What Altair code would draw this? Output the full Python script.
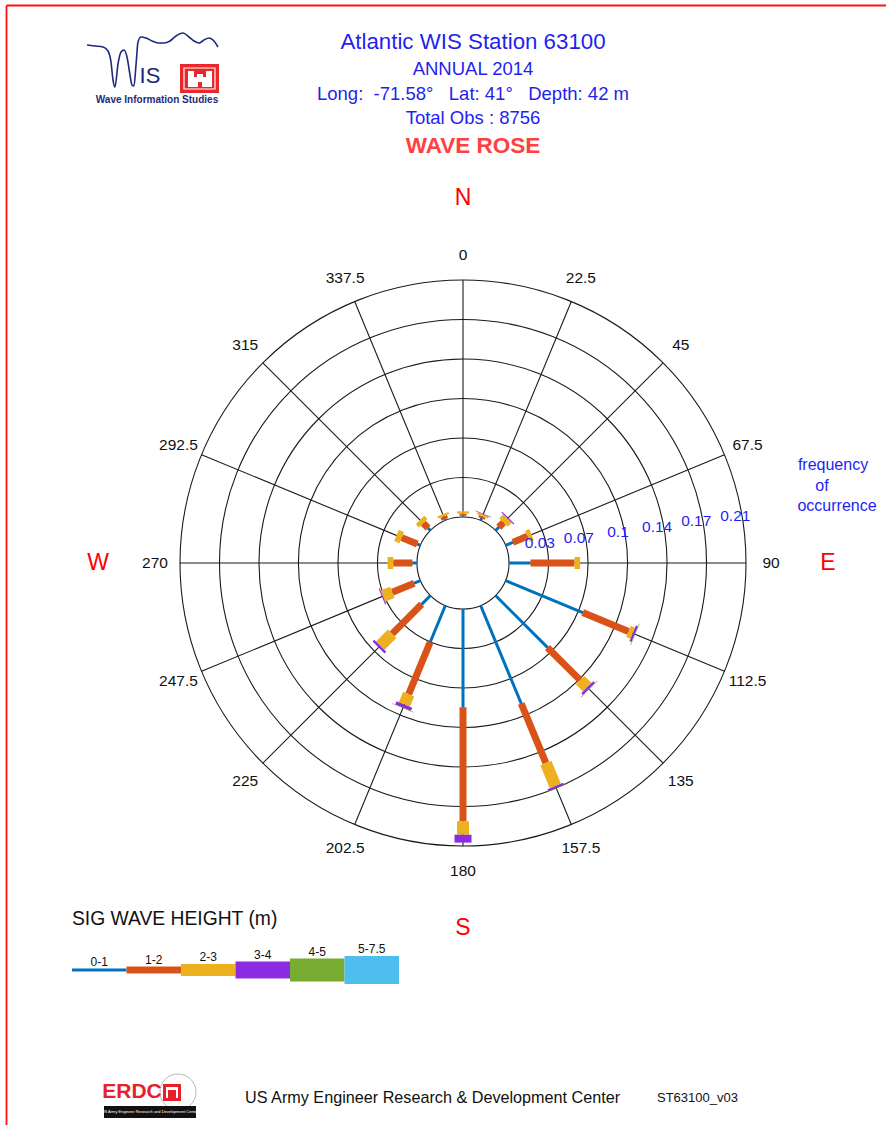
import math

import altair as alt
import pandas as pd

# ---------------------------------------------------------------------------
# Data
# ---------------------------------------------------------------------------
# Direction bins (degrees, compass convention, direction waves come from)
directions = [0, 22.5, 45, 67.5, 90, 112.5, 135, 157.5,
              180, 202.5, 225, 247.5, 270, 292.5, 315, 337.5]

height_bins = ["0-1", "1-2", "2-3", "3-4", "4-5", "5-7.5"]

# Frequency of occurrence for each direction bin, one list per height bin
freq_0_1 = [0.001, 0.002, 0.004, 0.007, 0.019, 0.074, 0.065, 0.094,
            0.087, 0.035, 0.011, 0.006, 0.004, 0.003, 0.003, 0.001]
freq_1_2 = [0.002, 0.002, 0.006, 0.014, 0.039, 0.044, 0.041, 0.057,
            0.101, 0.050, 0.037, 0.021, 0.017, 0.015, 0.006, 0.003]
freq_2_3 = [0.002, 0.002, 0.005, 0.004, 0.005, 0.004, 0.009, 0.022,
            0.012, 0.010, 0.015, 0.009, 0.005, 0.005, 0.004, 0.002]
freq_3_4 = [0.0, 0.0005, 0.001, 0.0, 0.0, 0.002, 0.002, 0.002,
            0.007, 0.003, 0.002, 0.001, 0.0, 0.0, 0.0, 0.0]
freq_4_5 = [0.0, 0.0, 0.0, 0.0, 0.0, 0.0005, 0.0005, 0.0003,
            0.0, 0.0005, 0.0, 0.0, 0.0, 0.0, 0.0, 0.0]
freq_5_75 = [0.0] * 16

ring_values = [0.035, 0.07, 0.105, 0.14, 0.175, 0.21]
ring_labels = ["0.03", "0.07", "0.1", "0.14", "0.17", "0.21"]
direction_labels = ["0", "22.5", "45", "67.5", "90", "112.5", "135", "157.5",
                    "180", "202.5", "225", "247.5", "270", "292.5", "315", "337.5"]
compass_points = ["N", "E", "S", "W"]
compass_angles = [0, 90, 180, 270]

# ---------------------------------------------------------------------------
# Styling / geometry
# ---------------------------------------------------------------------------
bin_colors = ["#0072BD", "#D95319", "#EDB120", "#8A2BE2", "#77AC30", "#4DBEEE"]
bin_widths = [3, 7, 12, 17, 23, 28]

FONT = "Liberation Sans"
BLUE = "#1F1FF0"
NAVY = "#1E2A78"
NB = "\u00a0"
R_PX = 283                 # outer ring radius in pixels
HOLE = 0.0408              # radius of the empty centre, in frequency units
OUTER = HOLE + ring_values[-1]
PX = OUTER / R_PX          # frequency units per pixel
SIDE = 2 * R_PX
LEFT, TOP = 180, 280       # view origin on the page

xs = alt.Scale(domain=[-OUTER, OUTER], range=[0, SIDE])
ys = alt.Scale(domain=[-OUTER, OUTER], range=[SIDE, 0])
color_scale = alt.Scale(domain=height_bins, range=bin_colors)
width_scale = alt.Scale(type="ordinal", domain=height_bins, range=bin_widths)


def polar(r, deg):
    a = math.radians(deg)
    return r * math.sin(a), r * math.cos(a)


# stacked radial segments
series = [freq_0_1, freq_1_2, freq_2_3, freq_3_4, freq_4_5, freq_5_75]
rows = []
for i, d in enumerate(directions):
    cum = 0.0
    for b, vals in enumerate(series):
        f = vals[i]
        if f <= 0:
            continue
        x0, y0 = polar(HOLE + cum, d)
        cum += f
        x1, y1 = polar(HOLE + cum, d)
        rows.append({"dir": d, "bin": height_bins[b], "freq": f,
                     "x": x0, "y": y0, "x2": x1, "y2": y1, "order": b})
bars_df = pd.DataFrame(rows)

spokes_df = pd.DataFrame([
    {"x": polar(HOLE, d)[0], "y": polar(HOLE, d)[1],
     "x2": polar(OUTER, d)[0], "y2": polar(OUTER, d)[1]} for d in directions
])
rings_df = pd.DataFrame({"r": [HOLE] + [HOLE + v for v in ring_values]})

dirlab_df = pd.DataFrame([
    {"label": lab, "x": polar(OUTER + 25 * PX, d)[0], "y": polar(OUTER + 25 * PX, d)[1]}
    for d, lab in zip(directions, direction_labels)
])
compass_df = pd.DataFrame([
    {"label": lab, "x": polar(OUTER + 82 * PX, d)[0], "y": polar(OUTER + 82 * PX, d)[1]}
    for d, lab in zip(compass_angles, compass_points)
])
freqlab_df = pd.DataFrame([
    {"label": lab, "x": polar(HOLE + v - 8 * PX, 82)[0],
     "y": polar(HOLE + v - 8 * PX, 82)[1]}
    for v, lab in zip(ring_values, ring_labels)
])

# ---------------------------------------------------------------------------
# Polar rose
# ---------------------------------------------------------------------------
rings = alt.Chart(rings_df).mark_arc(
    theta=0, theta2=2 * math.pi, fillOpacity=0, stroke="#1a1a1a", strokeWidth=1.1
).encode(
    x=alt.XDatum(0, scale=xs, axis=None),
    y=alt.YDatum(0, scale=ys, axis=None),
    radius=alt.Radius("r:Q", stack=None,
                      scale=alt.Scale(type="linear", domain=[0, OUTER], range=[0, R_PX], zero=True)),
)

spokes = alt.Chart(spokes_df).mark_rule(color="#1a1a1a", strokeWidth=1.1).encode(
    x=alt.X("x:Q", scale=xs, axis=None), y=alt.Y("y:Q", scale=ys, axis=None),
    x2="x2:Q", y2="y2:Q",
)

bars = alt.Chart(bars_df).mark_rule(strokeCap="butt").encode(
    x=alt.X("x:Q", scale=xs, axis=None), y=alt.Y("y:Q", scale=ys, axis=None),
    x2="x2:Q", y2="y2:Q",
    color=alt.Color("bin:N", scale=color_scale, legend=None),
    strokeWidth=alt.StrokeWidth("bin:O", scale=width_scale, legend=None),
    order="order:Q",
)


def polar_text(df, size, color, dy=0):
    return alt.Chart(df).mark_text(font=FONT, fontSize=size, color=color, dy=dy).encode(
        x=alt.X("x:Q", scale=xs, axis=None), y=alt.Y("y:Q", scale=ys, axis=None),
        text="label:N",
    )


dir_labels = polar_text(dirlab_df, 15.5, "#111")
compass = polar_text(compass_df, 23, "#FF0000")
freq_labels = polar_text(freqlab_df, 15.5, BLUE, dy=-9)


def page_text(text, px, py, size, color, weight="normal", align="center", font=FONT):
    """Text placed at page pixel coordinates."""
    return alt.Chart(pd.DataFrame({"t": [text]})).mark_text(
        font=font, fontSize=size, color=color, fontWeight=weight, align=align,
        baseline="middle",
    ).encode(x=alt.value(px - LEFT), y=alt.value(py - TOP), text="t:N")


def page_rect(x0, y0, x1, y1, fill, stroke=None, sw=1):
    kw = {"fill": fill}
    if stroke:
        kw.update(stroke=stroke, strokeWidth=sw)
    return alt.Chart(pd.DataFrame({"a": [0]})).mark_rect(**kw).encode(
        x=alt.value(x0 - LEFT), x2=alt.value(x1 - LEFT),
        y=alt.value(y0 - TOP), y2=alt.value(y1 - TOP),
    )


def page_rule(x0, y0, x1, y1, color, width):
    return alt.Chart(pd.DataFrame({"a": [0]})).mark_rule(color=color, strokeWidth=width).encode(
        x=alt.value(x0 - LEFT), x2=alt.value(x1 - LEFT),
        y=alt.value(y0 - TOP), y2=alt.value(y1 - TOP),
    )


# header
header = [
    page_text("Atlantic WIS Station 63100", 473, 42, 22.3, BLUE),
    page_text("ANNUAL 2014", 473, 69, 18.5, BLUE),
    page_text(f"Long:{NB*2}-71.58°{NB*3}Lat: 41°{NB*3}Depth: 42 m", 473, 94, 18.5, BLUE),
    page_text("Total Obs : 8756", 473, 118, 18.5, BLUE),
    page_text("WAVE ROSE", 473, 146, 22.5, "#FF4040", weight="bold"),
    page_text("frequency", 833, 465, 16, BLUE),
    page_text("of", 822, 486, 16, BLUE),
    page_text("occurrence", 837, 506, 16, BLUE),
]

# WIS logo: wave stroke forming the "W", then "IS", the castle badge and caption
wave_x = [87, 95, 103, 108, 111, 113, 115, 118, 121, 124, 127, 130, 132, 134, 136,
          138, 141, 146, 152, 158, 164, 170, 176, 183, 189, 194, 199, 204, 209, 214, 218]
wave_y = [45, 46, 47, 51, 62, 80, 87, 64, 52, 50, 57, 75, 85, 86, 65,
          42, 37, 38, 41, 43, 43, 41, 36, 33, 37, 41, 43, 40, 38, 41, 47]
page_x = alt.Scale(domain=[0, 886], range=[-LEFT, 886 - LEFT])
page_y = alt.Scale(domain=[0, 1125], range=[-TOP, 1125 - TOP])
wave = alt.Chart(pd.DataFrame({"px": wave_x, "py": wave_y, "k": range(len(wave_x))})).mark_line(
    color=NAVY, strokeWidth=1.6, interpolate="monotone"
).encode(
    x=alt.X("px:Q", scale=page_x, axis=None),
    y=alt.Y("py:Q", scale=page_y, axis=None),
    order="k:Q",
)
logo = [
    wave,
    page_text("IS", 150, 76, 22, NAVY),
    page_rect(180, 64, 219, 93, "#E8282B"),
    page_rect(184, 68, 215, 89, "#E8282B", stroke="white", sw=1.2),
    page_rect(190, 77, 210, 87, "white"),
    page_rect(188, 71, 194, 87, "white"),
    page_rect(206, 71, 212, 87, "white"),
    page_rect(197, 74, 203, 87, "white"),
    page_rect(198, 82, 202, 87, "#E8282B"),
    page_text("Wave Information Studies", 157, 100, 10, NAVY, weight="bold"),
]

# legend for significant wave height
legend_df = pd.DataFrame({"bin": height_bins, "i0": range(6), "i1": range(1, 7)})
leg_x = alt.Scale(domain=[0, 6], range=[72 - LEFT, 399 - LEFT])
legend_bars = alt.Chart(legend_df).mark_rule(strokeCap="butt").encode(
    x=alt.X("i0:Q", scale=leg_x, axis=None), x2="i1:Q",
    y=alt.value(970 - TOP),
    color=alt.Color("bin:N", scale=color_scale, legend=None),
    strokeWidth=alt.StrokeWidth("bin:O", scale=width_scale, legend=None),
)
legend_items = [page_text("SIG WAVE HEIGHT (m)", 72, 919, 19.3, "#111", align="left")]
for i, (lab, w) in enumerate(zip(height_bins, bin_widths)):
    cx = 72 + (i + 0.5) * (399 - 72) / 6
    legend_items.append(page_text(lab, cx, 970 - w / 2 - 7, 12, "#111"))

# footer with ERDC mark
footer = [
    alt.Chart(pd.DataFrame({"a": [0]})).mark_point(
        shape="circle", size=1300, filled=False, color="#9a9a9a", strokeWidth=1
    ).encode(x=alt.value(178 - LEFT), y=alt.value(1092 - TOP)),
    page_text("ERDC", 132, 1092, 21, "#E8202A", weight="bold"),
    page_rect(163, 1084, 181, 1101, "#E8202A"),
    page_rect(166, 1087, 178, 1098, "white"),
    page_rect(168, 1090, 176, 1098, "#E8202A"),
    page_rect(104, 1106, 196, 1118, "#111"),
    page_text("US Army Engineer Research and Development Center", 150, 1112, 4, "white"),
    page_text("US Army Engineer Research & Development Center", 245, 1098, 16.2, "#111",
              align="left"),
    page_text("ST63100_v03", 657, 1098, 13, "#111", align="left"),
]

# page frame
frame = [
    page_rule(6.5, 5.5, 886, 5.5, "#FF1010", 1.8),
    page_rule(6.5, 5.5, 6.5, 1125, "#FF1010", 1.8),
]

chart = alt.layer(
    rings, spokes, bars, dir_labels, compass, freq_labels,
    legend_bars, *header, *logo, *legend_items, *footer, *frame,
).resolve_scale(
    x="independent", y="independent"
).properties(
    width=SIDE, height=SIDE,
    padding={"left": LEFT, "top": TOP, "right": 886 - LEFT - SIDE, "bottom": 1125 - TOP - SIDE},
    autosize=alt.AutoSizeParams(type="none"),
    background="white",
).configure_view(stroke=None)

chart.save("out.html", embed_options={"renderer": "svg", "actions": False})
